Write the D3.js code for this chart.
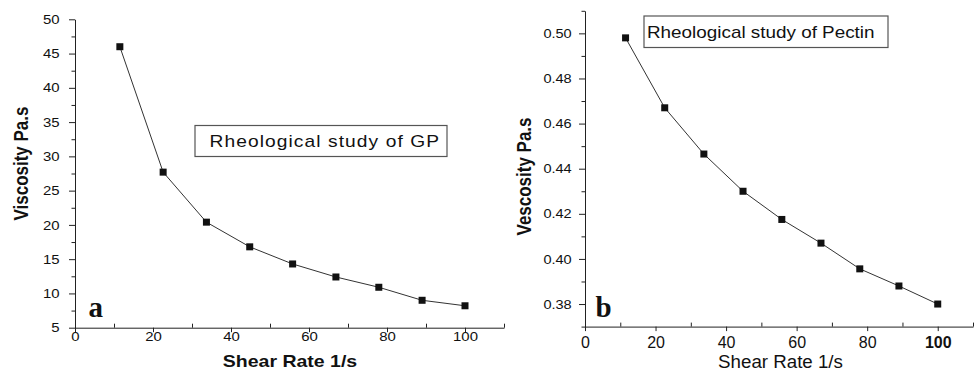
<!DOCTYPE html>
<html>
<head>
<meta charset="utf-8">
<script src="https://cdn.jsdelivr.net/npm/d3@7"></script>
<style>
  html, body { margin: 0; padding: 0; background: #fff; }
  svg { display: block; }
  text { fill: #111; font-family: "Liberation Sans", Arial, Helvetica, sans-serif; }
</style>
</head>
<body>
<svg id="chart" width="979" height="374"></svg>
<script>
// ---- data ----
const shearRate = [11.5, 22.6, 33.7, 44.8, 55.8, 66.9, 77.9, 89.0, 100];
const gpViscosity = [46.0, 27.7, 20.4, 16.8, 14.3, 12.4, 10.9, 9.0, 8.2];
const pectinViscosity = [0.498, 0.467, 0.4465, 0.430, 0.4175, 0.407, 0.3956, 0.388, 0.380];

const gpYTicks = [5, 10, 15, 20, 25, 30, 35, 40, 45, 50];
const gpYMinor = [7.5, 12.5, 17.5, 22.5, 27.5, 32.5, 37.5, 42.5, 47.5];
const pectinYTicks = [0.38, 0.40, 0.42, 0.44, 0.46, 0.48, 0.50];
const pectinYMinor = [0.37, 0.39, 0.41, 0.43, 0.45, 0.47, 0.49, 0.51];
const xTicks = [0, 20, 40, 60, 80, 100];
const xMinor = [10, 30, 50, 70, 90, 110];

const gpTitle = "Rheological study of GP";
const pectinTitle = "Rheological study of Pectin";

const svg = d3.select("#chart");

function stretchText(g, x, y, str, o) {
  const sx = o.sx || 1;
  const t = g.append("text")
    .attr("transform", `translate(${x},${y}) scale(${sx},1)` + (o.rotate ? ` rotate(${o.rotate})` : ""))
    .attr("text-anchor", o.anchor || "start")
    .style("font-size", o.size + "px")
    .style("font-weight", o.weight || "normal")
    .text(str);
  if (o.family) t.style("font-family", o.family);
  if (o.ls) t.style("letter-spacing", o.ls + "px");
  return t;
}

function panel(cfg) {
  const g = svg.append("g");
  const x = d3.scaleLinear().domain([0, 110]).range(cfg.xRange);
  const y = d3.scaleLinear().domain(cfg.yDomain).range(cfg.yRange);
  const y0 = cfg.yRange[0];
  const x0 = cfg.xRange[0];

  // y axis major
  const ya = g.append("g").attr("transform", `translate(${x0},0)`)
    .call(d3.axisLeft(y).tickValues(cfg.yTicks).tickSize(6).tickSizeOuter(0).tickFormat(cfg.yFmt));
  ya.selectAll(".tick text")
    .attr("x", -cfg.yLabOff / cfg.ySx)
    .attr("transform", `scale(${cfg.ySx},1)`)
    .style("font-size", "13px");
  // y minor
  g.append("g").attr("transform", `translate(${x0},0)`)
    .call(d3.axisLeft(y).tickValues(cfg.yMinor).tickSize(3.5).tickSizeOuter(0).tickFormat(""))
    .select(".domain").remove();

  // x axis major (outward)
  const xa = g.append("g").attr("transform", `translate(0,${y0})`)
    .call(d3.axisBottom(x).tickValues(xTicks).tickSize(4.5).tickSizeOuter(0).tickFormat(d3.format("d")));
  xa.selectAll(".tick text")
    .attr("y", cfg.xLabY)
    .attr("dy", "0.71em")
    .attr("transform", `scale(${cfg.xSx},1)`)
    .attr("x", 0)
    .style("font-size", cfg.xLabSize + "px")
    .style("font-weight", d => (cfg.boldTick === d ? "bold" : "normal"));
  // x minor (inward)
  g.append("g").attr("transform", `translate(0,${y0})`)
    .call(d3.axisBottom(x).tickValues(xMinor).tickSize(-4).tickSizeOuter(0).tickFormat(""))
    .select(".domain").remove();

  g.selectAll(".domain, .tick line").attr("stroke", "#222").attr("stroke-width", 1);

  // line
  const line = d3.line().x((d, i) => x(shearRate[i])).y(d => y(d));
  g.append("path").datum(cfg.values)
    .attr("d", line).attr("fill", "none").attr("stroke", "#333").attr("stroke-width", 1);

  // markers
  g.selectAll("rect.m").data(cfg.values).join("rect")
    .attr("class", "m")
    .attr("x", (d, i) => x(shearRate[i]) - 3.5)
    .attr("y", d => y(d) - 3.5)
    .attr("width", 7).attr("height", 7)
    .attr("fill", "#111");

  // legend box
  g.append("rect")
    .attr("x", cfg.box[0]).attr("y", cfg.box[1])
    .attr("width", cfg.box[2]).attr("height", cfg.box[3])
    .attr("fill", "#fff").attr("stroke", "#555").attr("stroke-width", 1.2);
  stretchText(g, cfg.boxText[0], cfg.boxText[1], cfg.title, { size: 16, sx: cfg.boxSx, ls: cfg.boxLs });

  // axis titles
  stretchText(g, cfg.xTitle[0], cfg.xTitle[1], "Shear Rate 1/s",
    { size: cfg.xTitleSize, sx: cfg.xTitleSx, anchor: "middle", weight: cfg.xTitleWeight });
  stretchText(g, cfg.yTitle[0], cfg.yTitle[1], cfg.yLabel,
    { size: 17, sx: 1.15, anchor: "middle", weight: "bold", rotate: -90 });

  // panel letter
  stretchText(g, cfg.letter[0], cfg.letter[1], cfg.letterText,
    { size: 29, weight: "bold", family: "'Liberation Serif', 'Times New Roman', serif" });
}

panel({
  xRange: [75, 504],
  yDomain: [5, 50], yRange: [327.7, 19.3],
  yTicks: gpYTicks, yMinor: gpYMinor, yFmt: d3.format("d"),
  yLabOff: 15.5, ySx: 1.15,
  xLabY: 4.5, xSx: 1.15, xLabSize: 13,
  values: gpViscosity,
  box: [195, 125.5, 252, 31], boxText: [209.5, 147], boxSx: 1.2, boxLs: 0.9,
  title: gpTitle,
  xTitle: [290, 366.5], xTitleSize: 16, xTitleSx: 1.22, xTitleWeight: "bold",
  yTitle: [27.5, 163.5], yLabel: "Viscosity Pa.s",
  letter: [88.5, 316.5], letterText: "a"
});

panel({
  xRange: [585, 973],
  yDomain: [0.37, 0.51], yRange: [326.6, 10.8],
  yTicks: pectinYTicks, yMinor: pectinYMinor, yFmt: d3.format(".2f"),
  yLabOff: 13.3, ySx: 1.12,
  xLabY: 10, xSx: 1.0, xLabSize: 16, boldTick: 100,
  values: pectinViscosity,
  box: [644, 16, 244, 31.5], boxText: [647, 37.7], boxSx: 1.18, boxLs: 0,
  title: pectinTitle,
  xTitle: [780.5, 367.5], xTitleSize: 17.5, xTitleSx: 1.07, xTitleWeight: "normal",
  yTitle: [531, 176.5], yLabel: "Vescosity Pa.s",
  letter: [595.5, 316.5], letterText: "b"
});
</script>
</body>
</html>
